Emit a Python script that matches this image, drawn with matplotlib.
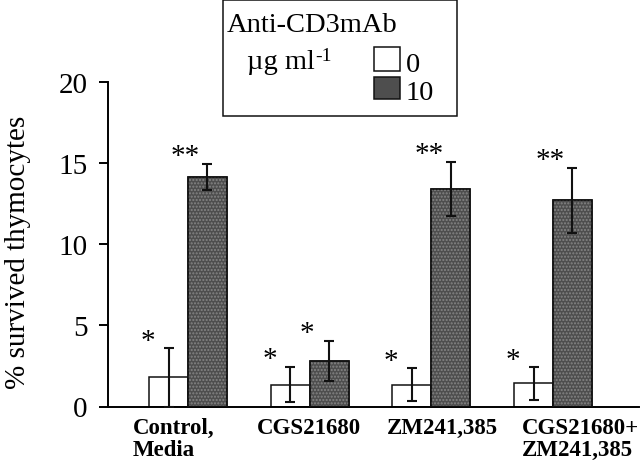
import numpy as np
import matplotlib
matplotlib.use('Agg')
import matplotlib.pyplot as plt
from matplotlib.patches import Rectangle
import matplotlib.transforms as mtransforms

BLACK = '#111111'
DARK = '#4e4e4e'
STIPPLE = '#858585'
plt.rcParams.update({'font.family': ['Liberation Serif', 'DejaVu Serif'], 'font.size': 20,
                     'axes.linewidth': 1.4, 'ytick.major.width': 1.4, 'ytick.major.size': 6.5,
                     'ytick.labelsize': 21, 'ytick.major.pad': 8})

groups = ['Control,\nMedia', 'CGS21680', 'ZM241,385', 'CGS21680+\nZM241,385']
mean_0 = [1.8, 1.35, 1.35, 1.43]
sd_0 = [1.8, 1.1, 1.0, 1.0]
mean_10 = [14.15, 2.8, 13.4, 12.7]
sd_10 = [0.8, 1.25, 1.67, 2.0]
stars_0 = ['*', '*', '*', '*']
stars_10 = ['**', '*', '**', '**']
yticks = [0, 5, 10, 15, 20]

W, H = 640, 464


def px(x, y):
    return (x / W, 1 - y / H)


def main():
    fig = plt.figure(figsize=(W / 100, H / 100), dpi=100)
    ax = fig.add_axes([108 / W, 1 - 407.5 / H, (639 - 108) / W, (407.5 - 83) / H])
    x = np.arange(len(groups))
    w = 0.32
    # white bars (0 ug/ml) and stippled dark bars (10 ug/ml)
    ax.bar(x - w / 2, mean_0, width=w, color='white', edgecolor=BLACK, linewidth=1.1, zorder=2)
    ax.bar(x + w / 2, mean_10, width=w, color=DARK, edgecolor=BLACK, linewidth=1.1, zorder=2)
    ax.bar(x + w / 2, mean_10, width=w, color='none', edgecolor=STIPPLE, hatch='.....', linewidth=0, zorder=2.5)
    ax.bar(x + w / 2, mean_10, width=w, color='none', edgecolor=BLACK, linewidth=1.1, zorder=2.6)
    kw = dict(fmt='none', ecolor=BLACK, elinewidth=1.5, capsize=3.3, capthick=1.5, zorder=3)
    ax.errorbar(x - w / 2, mean_0, yerr=sd_0, **kw)
    ax.errorbar(x + w / 2, mean_10, yerr=sd_10, **kw)
    for i in range(len(groups)):
        ax.text(x[i] - w - 0.01, mean_0[i] + sd_0[i] + 0.45, stars_0[i], ha='center', va='center', fontsize=21)
        ax.text(x[i] - 0.02, mean_10[i] + sd_10[i] + 0.5, stars_10[i], ha='center', va='center', fontsize=21)

    ax.set_xlim(-0.6575, 3.707)
    ax.set_ylim(0, 20)
    ax.set_yticks(yticks)
    ax.set_xticks([])
    for s in ('top', 'right'):
        ax.spines[s].set_visible(False)
    ax.set_ylabel('% survived thymocytes', fontsize=21)
    ax.yaxis.set_label_coords(-0.145, 0.479)

    # group labels, bold, left-aligned lines
    shift = [-0.12, -0.01, 0.09, 0.23]
    trans = mtransforms.blended_transform_factory(ax.transData, fig.transFigure)
    for i, g in enumerate(groups):
        ax.text(x[i] + shift[i], 1 - 418 / H, g, transform=trans, ha='center', va='top',
                multialignment='left', fontsize=16.5, fontweight='bold', linespacing=1.05)

    # legend box, drawn by hand
    fig.patches.append(Rectangle(px(223, 117), (457 - 223) / W, (117 - 1) / H, transform=fig.transFigure,
                                 facecolor='white', edgecolor=BLACK, linewidth=1.1))
    fig.text(*px(227, 32), 'Anti-CD3mAb', fontsize=20.5, va='baseline')
    mu = fig.text(*px(247, 69), '\u00b5g ml', fontsize=20.5, va='baseline')
    fig.canvas.draw()
    bb = mu.get_window_extent()
    fig.text((bb.x1 + 1) / W, 1 - 61 / H, '-1', fontsize=14, va='baseline')
    fig.patches.append(Rectangle(px(374, 72), 26 / W, 24 / H, transform=fig.transFigure,
                                 facecolor='white', edgecolor=BLACK, linewidth=1.1))
    fig.patches.append(Rectangle(px(374, 100), 26 / W, 22 / H, transform=fig.transFigure,
                                 facecolor=DARK, edgecolor=BLACK, linewidth=1.1))
    fig.text(*px(406, 72), '0', fontsize=20.5, va='baseline')
    fig.text(*px(406, 100), '10', fontsize=20.5, va='baseline')

    fig.savefig('out.png', dpi=100)
    plt.close(fig)


if __name__ == '__main__':
    main()
